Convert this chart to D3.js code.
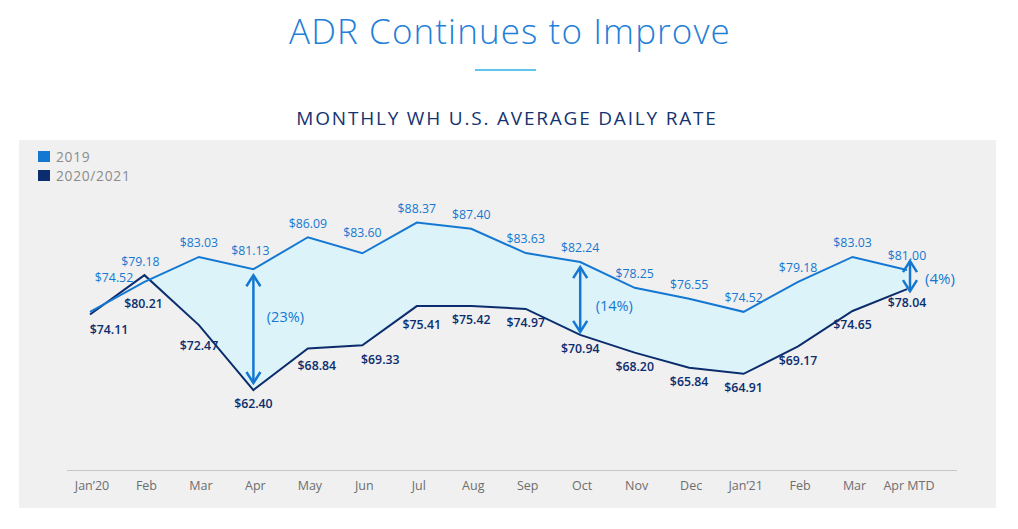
<!DOCTYPE html>
<html><head><meta charset="utf-8">
<script src="https://cdn.jsdelivr.net/npm/d3@7"></script>
<style>
body{margin:0;background:#fff;}
svg{display:block;font-family:"Open Sans",sans-serif;}
</style></head>
<body><svg id="c" width="1018" height="529"></svg>
<script>
// ---- data ----
const months = ["Jan’20","Feb","Mar","Apr","May","Jun","Jul","Aug","Sep","Oct","Nov","Dec","Jan’21","Feb ","Mar ","Apr MTD"];
const tickLabels = ["Jan’20","Feb","Mar","Apr","May","Jun","Jul","Aug","Sep","Oct","Nov","Dec","Jan’21","Feb","Mar","Apr MTD"];
const adr2019 = [74.52,79.18,83.03,81.13,86.09,83.60,88.37,87.40,83.63,82.24,78.25,76.55,74.52,79.18,83.03,81.00];
const adr2020 = [74.11,80.21,72.47,62.40,68.84,69.33,75.41,75.42,74.97,70.94,68.20,65.84,64.91,69.17,74.65,78.04];
const seriesNames = ["2019","2020/2021"];
const gapMonths = [3, 9, 15]; // indices of Apr, Oct, Apr MTD

// ---- layout / style (not data) ----
const C19 = "#1478d2", C20 = "#0b2d6e", FILL = "#ddf3fa";
const lab19Nudge = {0:[24,-20], 1:[-4,-6], 3:[-3,-5], 5:[0,-7]};
const lab20Nudge = {0:[19,1], 1:[-1,15], 2:[0,7], 4:[9,3], 5:[18,0], 6:[5,5]};
const arrowInset = {3:[6,-7], 9:[5,-3], 15:[-9,2]};
const arrowLabelPos = {3:[32,-12], 9:[34,6], 15:[30,3]};

const svg = d3.select("#c");

// panel
svg.append("rect").attr("x",19).attr("y",140).attr("width",977).attr("height",368).attr("fill","#f0f0f0");

// titles
svg.append("text").attr("x",510).attr("y",44).attr("text-anchor","middle")
  .attr("font-size",35).attr("font-weight",300).attr("letter-spacing",1.1).attr("fill","#1f80d8").text("ADR Continues to Improve");
svg.append("rect").attr("x",475).attr("y",69).attr("width",61).attr("height",2).attr("fill","#5ec6ea");
svg.append("text").attr("x",507).attr("y",125).attr("text-anchor","middle")
  .attr("font-size",19).attr("font-weight",500).attr("letter-spacing",1.8).attr("fill","#15336f")
  .text("MONTHLY WH U.S. AVERAGE DAILY RATE");

// scales
const x = d3.scalePoint().domain(months).range([90, 907]);
const y = d3.scaleLinear().domain([50, 100]).range([470, 147.5]);

// axis
const xAxis = d3.axisBottom(x).tickSize(0).tickPadding(11).tickFormat((d,i)=>tickLabels[i]);
const gx = svg.append("g").attr("transform","translate(0,470)").call(xAxis);
gx.select(".domain").remove();
gx.selectAll("text").attr("font-size",12.5).attr("fill","#6e6e6e").attr("font-family","Open Sans, sans-serif").attr("dx",1.5);
svg.append("line").attr("x1",67).attr("x2",957).attr("y1",470.5).attr("y2",470.5).attr("stroke","#c6c6c6").attr("stroke-width",1.2);

// fill between
const idx = d3.range(1, months.length);
const area = d3.area().x(i=>x(months[i])).y0(i=>y(adr2020[i])).y1(i=>y(adr2019[i]));
svg.append("path").datum(idx).attr("d",area).attr("fill",FILL);

// lines
const line = arr => d3.line().x((d,i)=>x(months[i])).y(d=>y(d))(arr);
svg.append("path").attr("d",line(adr2020)).attr("fill","none").attr("stroke",C20).attr("stroke-width",2);
svg.append("path").attr("d",line(adr2019)).attr("fill","none").attr("stroke",C19).attr("stroke-width",2);

// labels
const fmt = v => "$" + v.toFixed(2);
svg.append("g").selectAll("text").data(adr2019).join("text")
  .attr("x",(d,i)=>x(months[i]) + (lab19Nudge[i]?lab19Nudge[i][0]:0))
  .attr("y",(d,i)=>y(d) - 14 + (lab19Nudge[i]?lab19Nudge[i][1]:0))
  .attr("dy","0.35em").attr("text-anchor","middle").attr("font-size",12.3).attr("fill",C19)
  .text(fmt);
svg.append("g").selectAll("text").data(adr2020).join("text")
  .attr("x",(d,i)=>x(months[i]) + (lab20Nudge[i]?lab20Nudge[i][0]:0))
  .attr("y",(d,i)=>y(d) + 14 + (lab20Nudge[i]?lab20Nudge[i][1]:0))
  .attr("dy","0.35em").attr("text-anchor","middle").attr("font-size",12.3).attr("font-weight",600).attr("fill",C20)
  .text(fmt);

// gap arrows
const ag = svg.append("g");
gapMonths.forEach(i=>{
  const cx = x(months[i]) + (i===15?3:0);
  const y1 = y(adr2019[i]) + arrowInset[i][0];
  const y2 = y(adr2020[i]) + arrowInset[i][1];
  const hw = 7, hh = 11;
  ag.append("line").attr("x1",cx).attr("x2",cx).attr("y1",y1).attr("y2",y2).attr("stroke",C19).attr("stroke-width",2.5);
  ag.append("path").attr("d",`M${cx-hw},${y1+hh}L${cx},${y1}L${cx+hw},${y1+hh}`).attr("fill","none").attr("stroke",C19).attr("stroke-width",2.5);
  ag.append("path").attr("d",`M${cx-hw},${y2-hh}L${cx},${y2}L${cx+hw},${y2-hh}`).attr("fill","none").attr("stroke",C19).attr("stroke-width",2.5);
  const pct = Math.round((1 - adr2020[i]/adr2019[i])*100);
  ag.append("text").attr("x",cx + arrowLabelPos[i][0]).attr("y",(y1+y2)/2 + arrowLabelPos[i][1]).attr("dy","0.35em")
    .attr("text-anchor","middle").attr("font-size",i===15?15:14.5).attr("fill",C19).text(`(${pct}%)`);
});

// legend
const leg = svg.append("g");
seriesNames.forEach((n,k)=>{
  leg.append("rect").attr("x",38).attr("y",151 + k*19).attr("width",12).attr("height",11).attr("fill",k?C20:C19);
  leg.append("text").attr("x",56).attr("y",161.5 + k*19).attr("font-size",13.8).attr("letter-spacing",0.7).attr("fill","#8c8c8c").text(n);
});
</script></body></html>
